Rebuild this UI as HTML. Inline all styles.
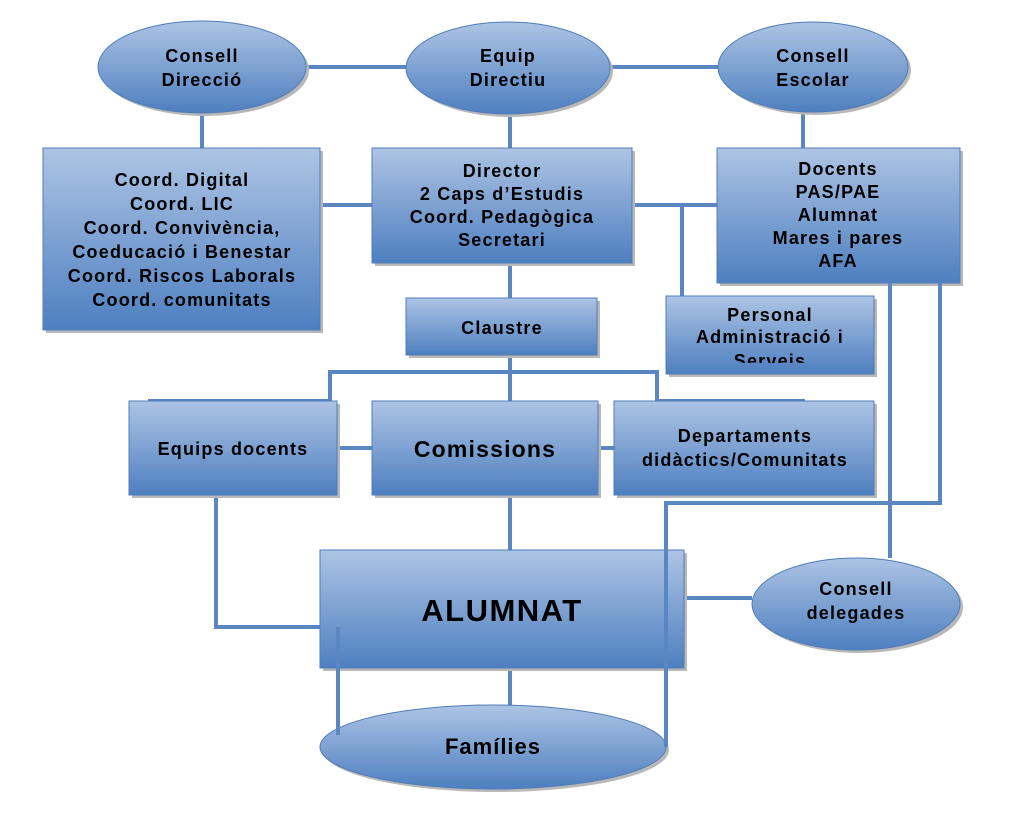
<!DOCTYPE html>
<html><head><meta charset="utf-8"><style>
body{margin:0;background:#fff;width:1016px;height:810px;overflow:hidden}
svg text{font-family:"Liberation Sans",Arial,sans-serif;font-weight:bold;fill:#000;text-anchor:middle}
.t{font-size:18px;letter-spacing:1.2px}
</style></head><body>
<svg width="1016" height="810" xmlns="http://www.w3.org/2000/svg">
<defs>
<linearGradient id="g" x1="0" y1="0" x2="0" y2="1"><stop offset="0" stop-color="#adc4e4"/><stop offset="1" stop-color="#4e7fc0"/></linearGradient>
<clipPath id="c"><rect x="666" y="300" width="208" height="63"/></clipPath>
</defs>
<g stroke="#5a87c2" stroke-width="4" fill="none">
<line x1="306" y1="67" x2="406" y2="67"/><line x1="610" y1="67" x2="718" y2="67"/>
<line x1="202" y1="113" x2="202" y2="148"/><line x1="510" y1="113" x2="510" y2="148"/><line x1="803" y1="112" x2="803" y2="148"/>
<line x1="320" y1="205" x2="372" y2="205"/><line x1="632" y1="205" x2="717" y2="205"/>
<line x1="682" y1="205" x2="682" y2="296"/>
<line x1="510" y1="263" x2="510" y2="298"/><line x1="510" y1="355" x2="510" y2="401"/>
<polyline points="330,401 330,372 657,372 657,401"/>
<line x1="148" y1="401" x2="330" y2="401"/><line x1="657" y1="401" x2="805" y2="401"/>
<line x1="337" y1="448" x2="372" y2="448"/><line x1="598" y1="448" x2="614" y2="448"/>
<line x1="510" y1="495" x2="510" y2="550"/><line x1="510" y1="668" x2="510" y2="705"/>
<polyline points="216,495 216,627 338,627 338,735"/>
<line x1="890" y1="283" x2="890" y2="558"/>
<polyline points="940,283 940,503 666,503 666,747"/>
<line x1="684" y1="598" x2="752" y2="598"/>
</g>
<g fill="#b8b8b8">
<ellipse cx="205" cy="70" rx="104" ry="46"/><ellipse cx="511" cy="71" rx="102" ry="46"/><ellipse cx="816" cy="70" rx="95" ry="45"/>
<rect x="46" y="151" width="277" height="182"/><rect x="375" y="151" width="260" height="115"/><rect x="720" y="151" width="243" height="135"/>
<rect x="409" y="301" width="191" height="57"/><rect x="669" y="299" width="208" height="78"/>
<rect x="132" y="404" width="208" height="94"/><rect x="375" y="404" width="226" height="94"/><rect x="617" y="404" width="260" height="94"/>
<rect x="323" y="553" width="364" height="118"/>
<ellipse cx="496" cy="750" rx="173" ry="42"/><ellipse cx="859" cy="607" rx="104" ry="46"/>
</g>
<g fill="url(#g)" stroke="#4f7cb8" stroke-width="1">
<ellipse cx="202" cy="67" rx="104" ry="46"/><ellipse cx="508" cy="68" rx="102" ry="46"/><ellipse cx="813" cy="67" rx="95" ry="45"/>
<rect x="43" y="148" width="277" height="182"/><rect x="372" y="148" width="260" height="115"/><rect x="717" y="148" width="243" height="135"/>
<rect x="406" y="298" width="191" height="57"/><rect x="666" y="296" width="208" height="78"/>
<rect x="129" y="401" width="208" height="94"/><rect x="372" y="401" width="226" height="94"/><rect x="614" y="401" width="260" height="94"/>
<rect x="320" y="550" width="364" height="118"/>
<ellipse cx="493" cy="747" rx="173" ry="42"/><ellipse cx="856" cy="604" rx="104" ry="46"/>
</g>
<g stroke="#5a87c2" stroke-width="4"><line x1="338" y1="627" x2="338" y2="735"/><line x1="666" y1="503" x2="666" y2="747"/><line x1="890" y1="283" x2="890" y2="300"/><line x1="940" y1="283" x2="940" y2="300"/></g>
<g class="t">
<text x="202" y="62">Consell</text><text x="202" y="86">Direcció</text>
<text x="508" y="62">Equip</text><text x="508" y="86">Directiu</text>
<text x="813" y="62">Consell</text><text x="813" y="86">Escolar</text>
<text x="182" y="186">Coord. Digital</text><text x="182" y="210">Coord. LIC</text><text x="182" y="234">Coord. Convivència,</text><text x="182" y="258">Coeducació i Benestar</text><text x="182" y="282">Coord. Riscos Laborals</text><text x="182" y="306">Coord. comunitats</text>
<text x="502" y="177">Director</text><text x="502" y="200">2 Caps d’Estudis</text><text x="502" y="223">Coord. Pedagògica</text><text x="502" y="246">Secretari</text>
<text x="838" y="175">Docents</text><text x="838" y="198">PAS/PAE</text><text x="838" y="221">Alumnat</text><text x="838" y="244">Mares i pares</text><text x="838" y="267">AFA</text>
<text x="502" y="334">Claustre</text>
<text x="770" y="321">Personal</text><text x="770" y="343">Administració i</text>
<text x="233" y="455">Equips docents</text>
<text x="745" y="442">Departaments</text><text x="745" y="466">didàctics/Comunitats</text>
<text x="856" y="595">Consell</text><text x="856" y="619">delegades</text>
<text x="770" y="367" clip-path="url(#c)">Serveis</text>
</g>
<text x="485" y="457" font-size="23" letter-spacing="1.2">Comissions</text>
<text x="502" y="621" font-size="31" letter-spacing="1.5">ALUMNAT</text>
<text x="493" y="754" font-size="22" letter-spacing="1">Famílies</text>
</svg>
</body></html>
